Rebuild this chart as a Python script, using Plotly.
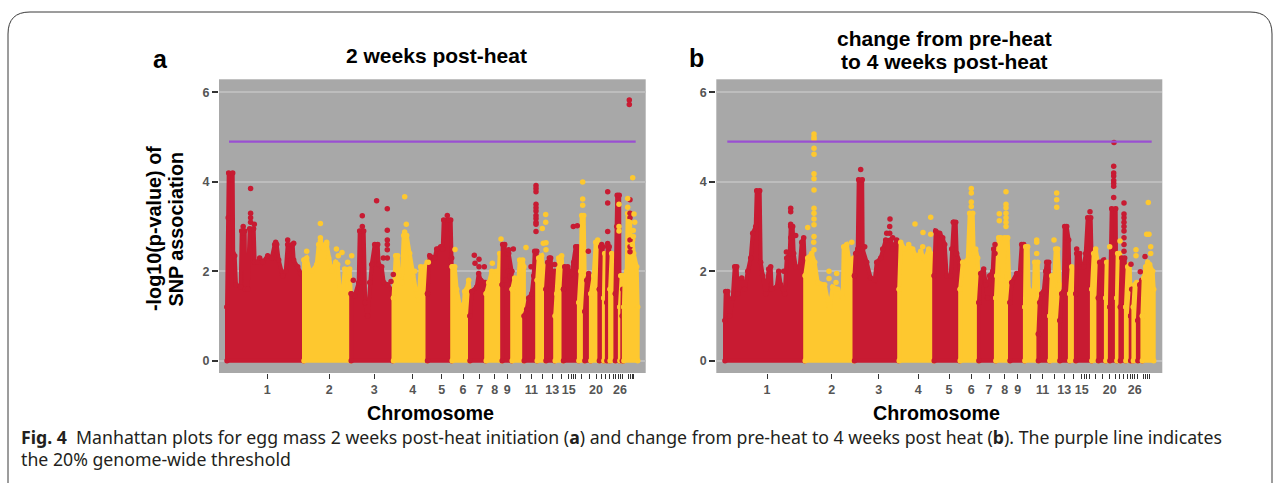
import plotly.graph_objects as go

W, H = 1282, 483
RED = "#c81b32"
YEL = "#fec82f"
PURPLE = "#9a4fd2"

# ---- panel a : genome position (offset from start of chr 1) and -log10(p) skyline per chromosome
A01 = [(0.3,1.2),(1.5,3.2),(2,4.2),(6,4.2),(6.5,2.4),(8,2.35),(9.3,1.7),(14,1.65),(15,2.9),(18,2.9),(18.5,1.6),(21,1.6),(23,2.95),(27,2.95),(28,2.2),(31,2.2),(33,2.3),(36,2.2),(41,2.35),(45,2.3),(48,2.6),(50,2.6),(52,2.25),(56,1.9),(59,2.0),(61,2.6),(66,2.6),(67,2.25),(71,2.1),(74,1.95),(77,1.85)]
A02 = [(77.3,2.25),(80,2.3),(83,2.0),(85,2.0),(90,2.15),(92,2.6),(95,2.6),(97,2.5),(100,2.6),(102,2.3),(105,2.0),(109,2.2),(111,2.15),(113,1.6),(116,1.5),(118,2.05),(123,2.05),(124,1.5)]
A03 = [(124.5,1.5),(128,1.45),(132,1.75),(133,2.9),(137,2.9),(138.5,1.3),(141,1.0),(143,1.75),(145,2.15),(148,2.6),(151,2.6),(152,2.15),(155,2.1),(157,1.75),(161,1.7),(166,1.55)]
A04 = [(166.8,1.4),(169,2.35),(171,2.35),(172,1.9),(175,1.75),(177,2.8),(180,2.8),(183,2.4),(186,1.9),(189,1.6),(192,1.35),(194,2.1),(198,2.1),(200.5,2.2)]
A05 = [(200.8,1.5),(203,2.35),(208,2.3),(210,2.5),(214,2.55),(216,2.5),(217,3.15),(224,3.15),(225,2.1)]
A06 = [(225.5,2.1),(228,2.1),(230,1.6),(233,1.25),(236.5,1.0),(238,1.55),(240,1.6),(242,1.8),(243,1.5)]
A07 = [(243.3,1.0),(245,1.55),(250,1.65),(252,1.95),(254,1.8),(259,1.75)]
A08 = [(259.5,1.5),(262,1.75),(265,2.0),(270,2.0),(272,1.9),(273,2.4),(275,2.4)]
A09 = [(275.5,1.7),(276,2.6),(278,2.6),(279,1.8),(280,2.4),(282,2.4),(285,2.0)]
A10 = [(285.5,1.6),(288,1.85),(291,1.55),(293,2.25),(296,2.25),(297.2,2.1)]
A11 = [(297.5,1.0),(300,1.15),(302,1.4),(305,1.5),(307,1.9),(308,2.45),(310,2.45),(310.3,1.3)]
A12 = [(310.5,1.8),(312,2.3),(315,2.35),(317,2.0),(319,2.1)]
A13 = [(319.3,1.6),(321,2.2),(324,2.3),(325,1.8),(328,2.0)]
A14 = [(328.5,1.0),(330,1.5),(332,2.3),(335,2.35),(336.5,1.7)]
A15 = [(336.8,1.6),(338,2.1),(341,2.1),(343,1.9),(345,1.95),(347,2.2),(349,2.55),(351,2.55),(352,2.0)]
A16 = [(352.2,1.3),(354,2.0),(355,3.25),(357,3.25),(358,1.9)]
A17 = [(358.2,1.1),(360,1.8),(362,1.95),(364,1.6)]
A18 = [(364.2,1.5),(367,1.9),(369,2.65),(371,2.7),(372.4,2.0)]
A19 = [(372.7,1.6),(374,2.55),(376,2.55),(377,1.5)]
A20 = [(377.2,1.4),(378,2.4),(379.5,2.4),(380,1.5)]
A21 = [(380.2,1.3),(381,2.55),(382.5,2.55),(383.2,1.4)]
A22 = [(383.4,1.6),(385,2.4),(387,2.35),(388.5,2.0)]
A23 = [(388.7,1.5),(390,3.0),(390.5,3.7),(392.5,3.7),(393,1.9)]
A24 = [(393.2,1.2),(394,1.9),(395,1.9),(395.5,1.0)]
A25 = [(395.6,1.0),(396,1.6),(397,1.5)]
A26 = [(397.2,1.2),(398,1.9),(400,2.0),(401,3.3),(403,3.3),(404,2.7),(406,2.7),(407,2.4),(410,2.1),(411,1.2)]

A_RED_X = [23.9,23.9,23.9,23.9,27.6,16.5,16.5,16.5,61,67,62,61,49,
           126.6,135.6,135.6,149.9,160.6,160.6,160.6,160.6,160.6,156.6,160.6,164.3,166.6,
           220.6,222,225,247.6,248.3,252.3,252.3,257.6,286.6,282,281.6,285,
           309.3,309.3,309.3,309.3,309.3,309.3,309.3,309.3,309.3,309.3,309.3,304.3,
           322.6,328,346.6,350.6,361.6,381,381,381,381,402.6,402.6,403.3,403.3,403.3,403.3,403.3,403.3,375]
A_RED_Y = [3.85,3.3,3.2,3.1,3.05,3.0,2.85,2.75,2.7,2.63,2.5,2.35,2.65,
           1.8,3.24,3.0,3.58,3.4,2.92,2.7,2.6,2.48,2.3,2.3,1.77,1.93,
           3.25,3.15,2.3,2.36,2.18,2.27,2.1,2.1,2.5,2.48,2.0,2.0,
           3.92,3.85,3.78,3.5,3.42,3.35,3.25,3.18,3.1,3.05,2.89,2.1,
           2.3,2.15,3.0,3.02,2.45,3.78,3.53,2.89,2.62,5.83,5.73,3.6,3.3,3.2,2.7,2.55,2.44,2.6]
A_YEL_X = [80,93.7,93.7,93.7,100,109.7,111.6,115.3,121,125,
           178,179.6,178,188,201.6,228.3,265.6,274.3,299.3,
           319,319,315.6,316.6,319.3,319.3,356,356,356,
           392.3,392.3,392.3,401,401,407.3,402,408,406.6,406.6,405.6,406]
A_YEL_Y = [2.45,3.07,2.75,2.68,2.65,2.5,2.35,2.42,2.2,2.35,
           3.67,3.05,2.88,2.0,2.2,2.49,2.18,2.72,2.53,
           3.27,3.1,2.96,2.63,2.64,2.48,4.0,3.62,3.48,
           3.5,3.0,2.9,3.63,3.43,3.28,3.11,3.1,2.91,2.78,2.6,4.09]

# ---- panel b
B01 = [(0.3,0.9),(1,1.55),(3,1.55),(5,1.0),(8,1.4),(10,2.1),(12,2.1),(13,1.5),(17,1.85),(20,1.6),(23,2.0),(26,2.3),(28,2.85),(31,3.0),(32,3.8),(35,3.8),(36,2.2),(38,1.9),(41,1.5),(44,2.05),(46,2.1),(47,1.6),(52,1.65),(54,2.0),(56,1.7),(60,1.5),(62,2.3),(65,2.4),(66,3.0),(68,3.0),(69,2.4),(71,2.1),(75,2.1),(77,2.65),(79,2.75),(80,2.2)]
B02 = [(80.5,1.9),(83,2.3),(87,2.4),(90,2.2),(93,1.75),(100,1.7),(103,1.35),(105,1.2),(108,1.65),(113,1.6),(118,1.4),(119,2.55),(122,2.6),(125,2.2),(129,2.3)]
B03 = [(129.8,1.9),(131,2.4),(133,2.5),(134,4.05),(137.5,4.05),(138,2.5),(142,2.2),(146,1.85),(150,1.8),(152,2.2),(156,2.3),(158,2.5),(161,2.7),(166,2.7),(168,2.5),(172,2.7),(174,2.6)]
B04 = [(174.5,1.6),(176,2.65),(180,2.5),(184,2.55),(188,2.5),(192,2.3),(196,2.45),(200,2.25),(204,2.5),(208,2.35),(209,1.6)]
B05 = [(209.5,1.9),(211,2.9),(215,2.85),(218,2.75),(220,2.6),(222,1.9),(226,1.9),(227,2.5),(229,3.1),(231,3.1),(232,2.4),(235,2.2)]
B06 = [(235.5,1.6),(238,2.2),(243,2.25),(245,3.3),(248,3.3),(249,2.4),(251,2.5),(253,2.3),(254,1.6)]
B07 = [(254.2,1.3),(256,1.95),(259,2.05),(261,1.7),(263,1.4),(265,1.9),(268,2.0),(269,2.5),(271,2.5)]
B08 = [(271.2,1.4),(272,1.9),(274,2.75),(276,2.75),(278,1.8),(280,2.75),(283,2.75),(284.5,1.8)]
B09 = [(285.3,1.3),(287,1.75),(292,1.95),(295,1.95),(297,2.6),(299,2.6),(300,1.9)]
B10 = [(300.2,1.2),(301,2.55),(303,2.55),(304,1.6),(307,1.55),(309,1.4),(310,2.2),(313,2.2),(313.5,1.5)]
B11 = [(313.7,0.6),(315,1.3),(317,1.5),(319,1.55),(321,2.0),(322,2.2),(324,2.2),(325,1.3)]
B12 = [(325.2,1.0),(327,1.9),(329,1.6),(331,2.5),(333,2.5),(335,1.7)]
B13 = [(335.2,0.9),(337,1.5),(339,1.55),(340,3.0),(342,3.0),(344,2.7),(345,1.5)]
B14 = [(345.2,1.5),(347,2.1),(350,2.0),(351,1.7)]
B15 = [(351.2,1.5),(352,2.4),(355,2.4),(356,2.1),(359,2.1),(361,2.4),(363,3.2),(366,3.2),(367,2.2)]
B16 = [(367.2,1.6),(369,2.4),(371,2.5),(373,2.2),(373.5,1.6)]
B17 = [(373.7,1.4),(375,2.2),(379,2.25),(381,1.7)]
B18 = [(381.2,1.4),(382,2.2),(385,2.2)]
B19 = [(385.2,1.2),(387,3.4),(391,3.4),(392,1.4)]
B20 = [(392.2,1.4),(393,2.4),(395,2.4),(395.5,1.5)]
B21 = [(395.7,1.2),(397,2.3),(400,2.3),(401,1.3)]
B22 = [(401.2,1.2),(403,2.1),(405,2.15),(406,1.3)]
B23 = [(406,1.0),(407,1.6),(408,1.6),(408.5,0.9)]
B24 = [(408.7,1.2),(410,1.7),(412,1.75),(413,1.1)]
B25 = [(413.2,0.9),(415,1.7),(417,1.8),(417.5,0.7)]
B26 = [(417.7,1.0),(419,1.85),(421,2.1),(423,2.2),(425,2.15),(428,2.0),(429,1.6)]

B_RED_X = [66,66,66,68,66,71,61.7,59,136,165.3,165,162,165,168,140,228.6,231.6,270.3,270.3,
           389.3,389,389,389,389,389,389,389,399.3,399.3,399.3,399.3,399.3,399.3,399.3,399.3,399.3,
           365.3,406.3,415.6,420.3,352]
B_RED_Y = [3.41,3.33,3.05,2.8,2.75,2.8,2.43,2.0,4.28,3.17,3.0,2.85,2.85,2.75,2.55,3.1,2.4,2.6,2.4,
           4.88,4.35,4.2,4.13,4.03,3.97,3.9,3.65,3.53,3.28,3.2,3.1,3.0,2.9,2.75,2.6,2.45,
           3.33,2.16,1.99,2.33,2.5]
B_YEL_X = [89.3,89.3,89.3,89.3,89.3,89.3,89.3,89.3,89.3,89.3,89.3,89.3,89.3,83,89.3,89,
           127,104.3,112,104.3,111.3,190.3,198.3,206,206,184,198,
           246.6,246.6,246.6,246.6,281.3,281.3,281.3,281.3,281.3,281.3,281.3,274.6,274.6,
           312,312,312,329.3,332,332,332,385,395.3,411.3,411.3,423.6,422,424.3,426,426]
B_YEL_Y = [5.07,5.0,4.95,4.75,4.62,4.18,4.07,3.82,3.41,3.3,3.17,3.04,2.78,2.98,2.48,2.65,
           2.65,2.0,1.95,1.84,1.75,3.06,2.87,3.21,2.83,2.6,2.55,
           3.85,3.75,3.55,3.45,3.78,3.5,3.42,3.3,3.2,3.1,3.0,3.29,3.13,
           2.7,2.65,2.4,2.7,3.75,3.6,3.43,2.55,2.68,2.48,2.35,3.54,2.83,2.83,2.55,2.4]

A_SEGMENTS = [A01,A02,A03,A04,A05,A06,A07,A08,A09,A10,A11,A12,A13,A14,A15,A16,A17,A18,A19,A20,A21,A22,A23,A24,A25,A26]
B_SEGMENTS = [B01,B02,B03,B04,B05,B06,B07,B08,B09,B10,B11,B12,B13,B14,B15,B16,B17,B18,B19,B20,B21,B22,B23,B24,B25,B26]

# ---- axes
Y_TICKS = [0, 2, 4, 6]
THRESHOLD = 4.9
A_TICKS = [40.6,102.6,147.6,186,215,236.3,253,268,280.6,293.3,304.6,315.6,325.6,334.3,342,344.5,347,349,355,362.3,369.3,375,379,382.6,386.6,389,391.3,393.3,396,401.6,403.6,405.6,407]
B_TICKS = [42.3,107,154,193.6,224.3,246.6,264.3,280,293,305.6,318,329.3,339.6,348.6,357,359.3,362,364.6,371,378,385,390.3,394.6,398.6,403,405.3,407.6,410,412.3,418.6,420.6,422.6,424.6]
TICK_LABELS = ["1","2","3","4","5","6","7","8","9","","11","","13","","15","","","","","","20","","","","","","","26","","","","",""]
A_LINE_SPAN = [2.3, 409]
B_LINE_SPAN = [2.6, 427]

fig = go.Figure()

def add_panel(segments, rx, ry, yx, yy, span, xaxis, yaxis):
    for i, seg in enumerate(segments):
        xs = [p[0] for p in seg]
        ys = [p[1] for p in seg]
        col = RED if i % 2 == 0 else YEL
        fig.add_trace(go.Scatter(x=xs + [xs[-1], xs[0], xs[0]], y=ys + [0, 0, ys[0]],
                                 mode="lines+markers", fill="toself", fillcolor=col,
                                 line=dict(color=col, width=4), marker=dict(color=col, size=5.5),
                                 xaxis=xaxis, yaxis=yaxis, hoverinfo="skip"))
    fig.add_trace(go.Scatter(x=rx, y=ry, mode="markers", marker=dict(color=RED, size=5.5),
                             xaxis=xaxis, yaxis=yaxis, hoverinfo="skip"))
    fig.add_trace(go.Scatter(x=yx, y=yy, mode="markers", marker=dict(color=YEL, size=5.5),
                             xaxis=xaxis, yaxis=yaxis, hoverinfo="skip"))
    fig.add_trace(go.Scatter(x=span, y=[THRESHOLD, THRESHOLD], mode="lines",
                             line=dict(color=PURPLE, width=2.2), xaxis=xaxis, yaxis=yaxis, hoverinfo="skip"))

add_panel(A_SEGMENTS, A_RED_X, A_RED_Y, A_YEL_X, A_YEL_Y, A_LINE_SPAN, "x", "y")
add_panel(B_SEGMENTS, B_RED_X, B_RED_Y, B_YEL_X, B_YEL_Y, B_LINE_SPAN, "x2", "y2")

def px(x): return x / W
def py(y): return 1 - y / H

def xax(dom, rng, ticks):
    return dict(domain=[px(dom[0]), px(dom[1])], range=rng, tickvals=ticks, ticktext=TICK_LABELS,
                ticks="outside", ticklen=5, tickwidth=1.3, tickcolor="#333333", showgrid=False, zeroline=False,
                tickfont=dict(family="Liberation Sans", size=12.5, color="#555555", weight="bold"), tickangle=0, showline=False)

def yax(anchor):
    return dict(domain=[py(373), py(79.3)], range=[-0.275, 6.295], tickvals=Y_TICKS, anchor=anchor,
                ticks="outside", ticklen=6, tickwidth=1.6, tickcolor="#333333", showgrid=True, gridcolor="#bdbdbd", gridwidth=1.5,
                zeroline=False, showline=False,
                tickfont=dict(family="Liberation Sans", size=12.5, color="#555555", weight="bold"))

def txt(s, x, y, size, rot=0, family="Liberation Sans", anchor="center", color="#000000", bold=True):
    fig.add_annotation(text=f"<b>{s}</b>" if bold else s, x=px(x), y=py(y), xref="paper", yref="paper", showarrow=False,
                       xanchor=anchor, yanchor="middle", textangle=rot, align="center",
                       font=dict(family=family, size=size, color=color))

txt("a", 161, 59, 25)
txt("b", 696, 58, 25)
txt("2 weeks post-heat", 436.5, 56, 21)
txt("change from pre-heat", 944, 38, 21)
txt("to 4 weeks post-heat", 944, 62, 21)
txt("-log10(p-value) of", 154, 229, 19.8, rot=-90)
txt("SNP association", 175.5, 229, 19.8, rot=-90)
txt("Chromosome", 430, 413, 19.7)
txt("Chromosome", 936.5, 413, 19.7)
txt("<b>Fig. 4</b>  Manhattan plots for egg mass 2 weeks post-heat initiation (<b>a</b>) and change from pre-heat to 4 weeks post heat (<b>b</b>). The purple line indicates",
    19, 437, 17.7, family="Noto Sans", anchor="left", color="#231f20", bold=False)
txt("the 20% genome-wide threshold", 19, 459, 17.7, family="Noto Sans", anchor="left", color="#231f20", bold=False)

card = (f"M {px(8)},{py(483)} L {px(8)},{py(34)} Q {px(8)},{py(12)} {px(30)},{py(12)} "
        f"L {px(1250)},{py(12)} Q {px(1272)},{py(12)} {px(1272)},{py(34)} L {px(1272)},{py(483)}")

fig.update_layout(width=W, height=H, margin=dict(l=0, r=0, t=0, b=0), showlegend=False,
                  paper_bgcolor="white", plot_bgcolor="#a8a8a8",
                  xaxis=xax((219, 645.7), [-7.7, 419], A_TICKS),
                  yaxis=yax("x"),
                  xaxis2=xax((716.3, 1162.3), [-8.4, 437.6], B_TICKS),
                  yaxis2=yax("x2"),
                  shapes=[dict(type="path", path=card, xref="paper", yref="paper",
                               line=dict(color="#3a3a3a", width=1))])

fig.write_html("out.html", config=dict(displayModeBar=False),
               post_script="document.body.style.margin='0';document.body.style.overflow='hidden';")
